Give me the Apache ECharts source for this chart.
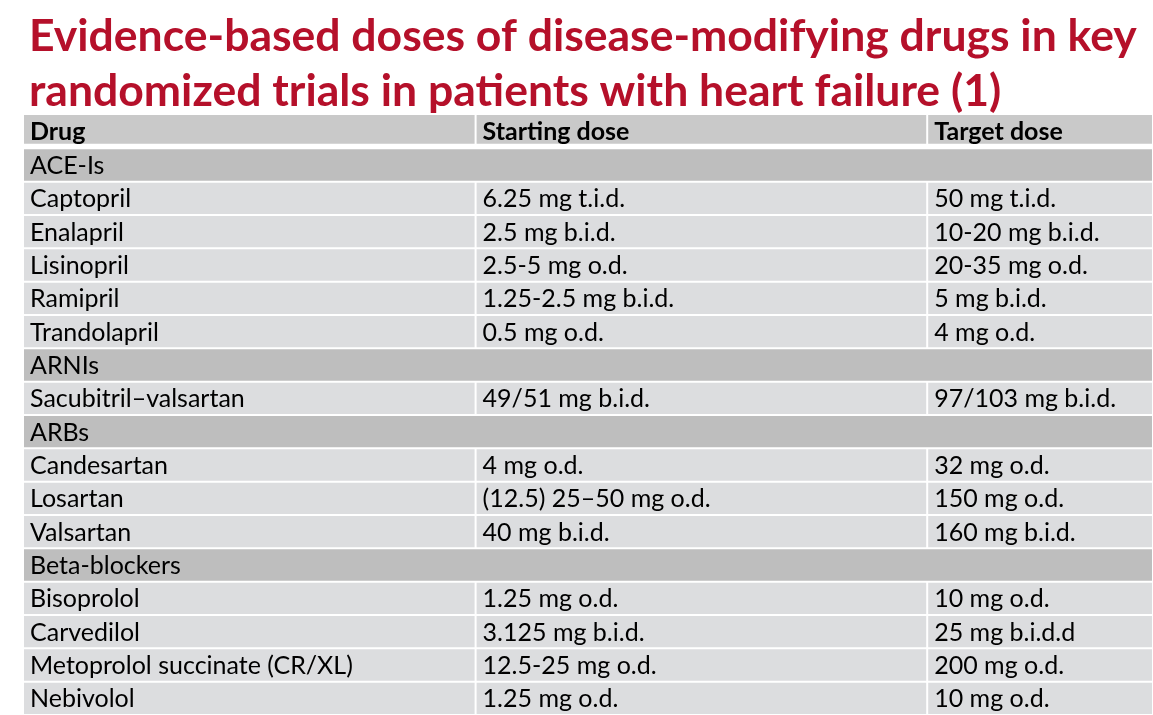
<!DOCTYPE html>
<html>
<head>
<meta charset="utf-8">
<script src="https://cdn.jsdelivr.net/npm/echarts@6/dist/echarts.min.js"></script>
<style>
html,body{margin:0;padding:0;background:#ffffff;}
#main{width:1153px;height:715px;}
</style>
</head>
<body>
<div id="main"></div>
<script>
// ---- data ----
const titleText = 'Evidence-based doses of disease-modifying drugs in key\nrandomized trials in patients with heart failure (1)';
const headers = ['Drug', 'Starting dose', 'Target dose'];
const groupNames = ['ACE-Is', 'ARNIs', 'ARBs', 'Beta-blockers'];
const drugs = [
  ['Captopril', 'Enalapril', 'Lisinopril', 'Ramipril', 'Trandolapril'],
  ['Sacubitril\u2013valsartan'],
  ['Candesartan', 'Losartan', 'Valsartan'],
  ['Bisoprolol', 'Carvedilol', 'Metoprolol succinate (CR/XL)', 'Nebivolol']
];
const startingDoses = [
  ['6.25 mg t.i.d.', '2.5 mg b.i.d.', '2.5-5 mg o.d.', '1.25-2.5 mg b.i.d.', '0.5 mg o.d.'],
  ['49/51 mg b.i.d.'],
  ['4 mg o.d.', '(12.5) 25\u201350 mg o.d.', '40 mg b.i.d.'],
  ['1.25 mg o.d.', '3.125 mg b.i.d.', '12.5-25 mg o.d.', '1.25 mg o.d.']
];
const targetDoses = [
  ['50 mg t.i.d.', '10-20 mg b.i.d.', '20-35 mg o.d.', '5 mg b.i.d.', '4 mg o.d.'],
  ['97/103 mg b.i.d.'],
  ['32 mg o.d.', '150 mg o.d.', '160 mg b.i.d.'],
  ['10 mg o.d.', '25 mg b.i.d.d', '200 mg o.d.', '10 mg o.d.']
];

// ---- layout (not data) ----
const COL_EDGES = [0, 2, 4, 5];
const COLORS = { header: '#c9c9c9', group: '#bebebe', item: '#dcdddf' };
const FONT = 'Lato, "Open Sans", sans-serif';

// build rows
const rows = [];
rows.push({ kind: 'header', cells: headers });
groupNames.forEach((g, gi) => {
  rows.push({ kind: 'group', cells: [g] });
  drugs[gi].forEach((d, di) => {
    rows.push({ kind: 'item', cells: [d, startingDoses[gi][di], targetDoses[gi][di]] });
  });
});
const rowLabels = rows.map((r, i) => String(i));

const cellData = [];
const cellInfo = [];
rows.forEach((row, ri) => {
  if (row.kind === 'group') {
    cellData.push([COL_EDGES[0], COL_EDGES[3], ri]);
    cellInfo.push({ kind: row.kind, text: row.cells[0] });
  } else {
    row.cells.forEach((t, ci) => {
      cellData.push([COL_EDGES[ci], COL_EDGES[ci + 1], ri]);
      cellInfo.push({ kind: row.kind, text: t });
    });
  }
});

function renderItem(params, api) {
  const info = cellInfo[params.dataIndex];
  const x0 = api.value(0), x1 = api.value(1), r = api.value(2);
  const p0 = api.coord([x0, r]);
  const p1 = api.coord([x1, r]);
  const bandH = api.size([0, 1])[1];
  const top = p0[1] - bandH / 2;
  const left = p0[0] + (x0 > 0 ? 1 : 0);
  const width = p1[0] - left - 1;
  let y, h;
  if (info.kind === 'header') { y = top; h = bandH - 4.5; }
  else { y = top + 1; h = bandH - 2; }
  return {
    type: 'group',
    children: [
      { type: 'rect', shape: { x: left, y: y, width: width, height: h },
        style: { fill: COLORS[info.kind] } },
      { type: 'text',
        style: { text: info.text, x: left + 6, y: y + h / 2 + (info.kind === 'header' ? 2.5 : 1),
          verticalAlign: 'middle', align: 'left', fill: '#000',
          fontSize: 25, fontFamily: FONT,
          fontWeight: info.kind === 'header' ? 'bold' : 'normal' } }
    ]
  };
}

const chart = echarts.init(document.getElementById('main'), null, { renderer: 'canvas' });
chart.setOption({
  animation: false,
  backgroundColor: '#ffffff',
  title: {
    text: titleText,
    left: 29, top: 9, padding: 0,
    textStyle: { color: '#b5102a', fontSize: 44.5, fontWeight: 'bold', fontFamily: FONT, lineHeight: 55 }
  },
  grid: { left: 24, right: 0, top: 115, height: 601, containLabel: false },
  xAxis: { type: 'value', min: 0, max: 5, show: false },
  yAxis: { type: 'category', data: rowLabels, inverse: true, show: false },
  series: [{ type: 'custom', renderItem: renderItem, data: cellData, clip: false }]
});
</script>
</body>
</html>
